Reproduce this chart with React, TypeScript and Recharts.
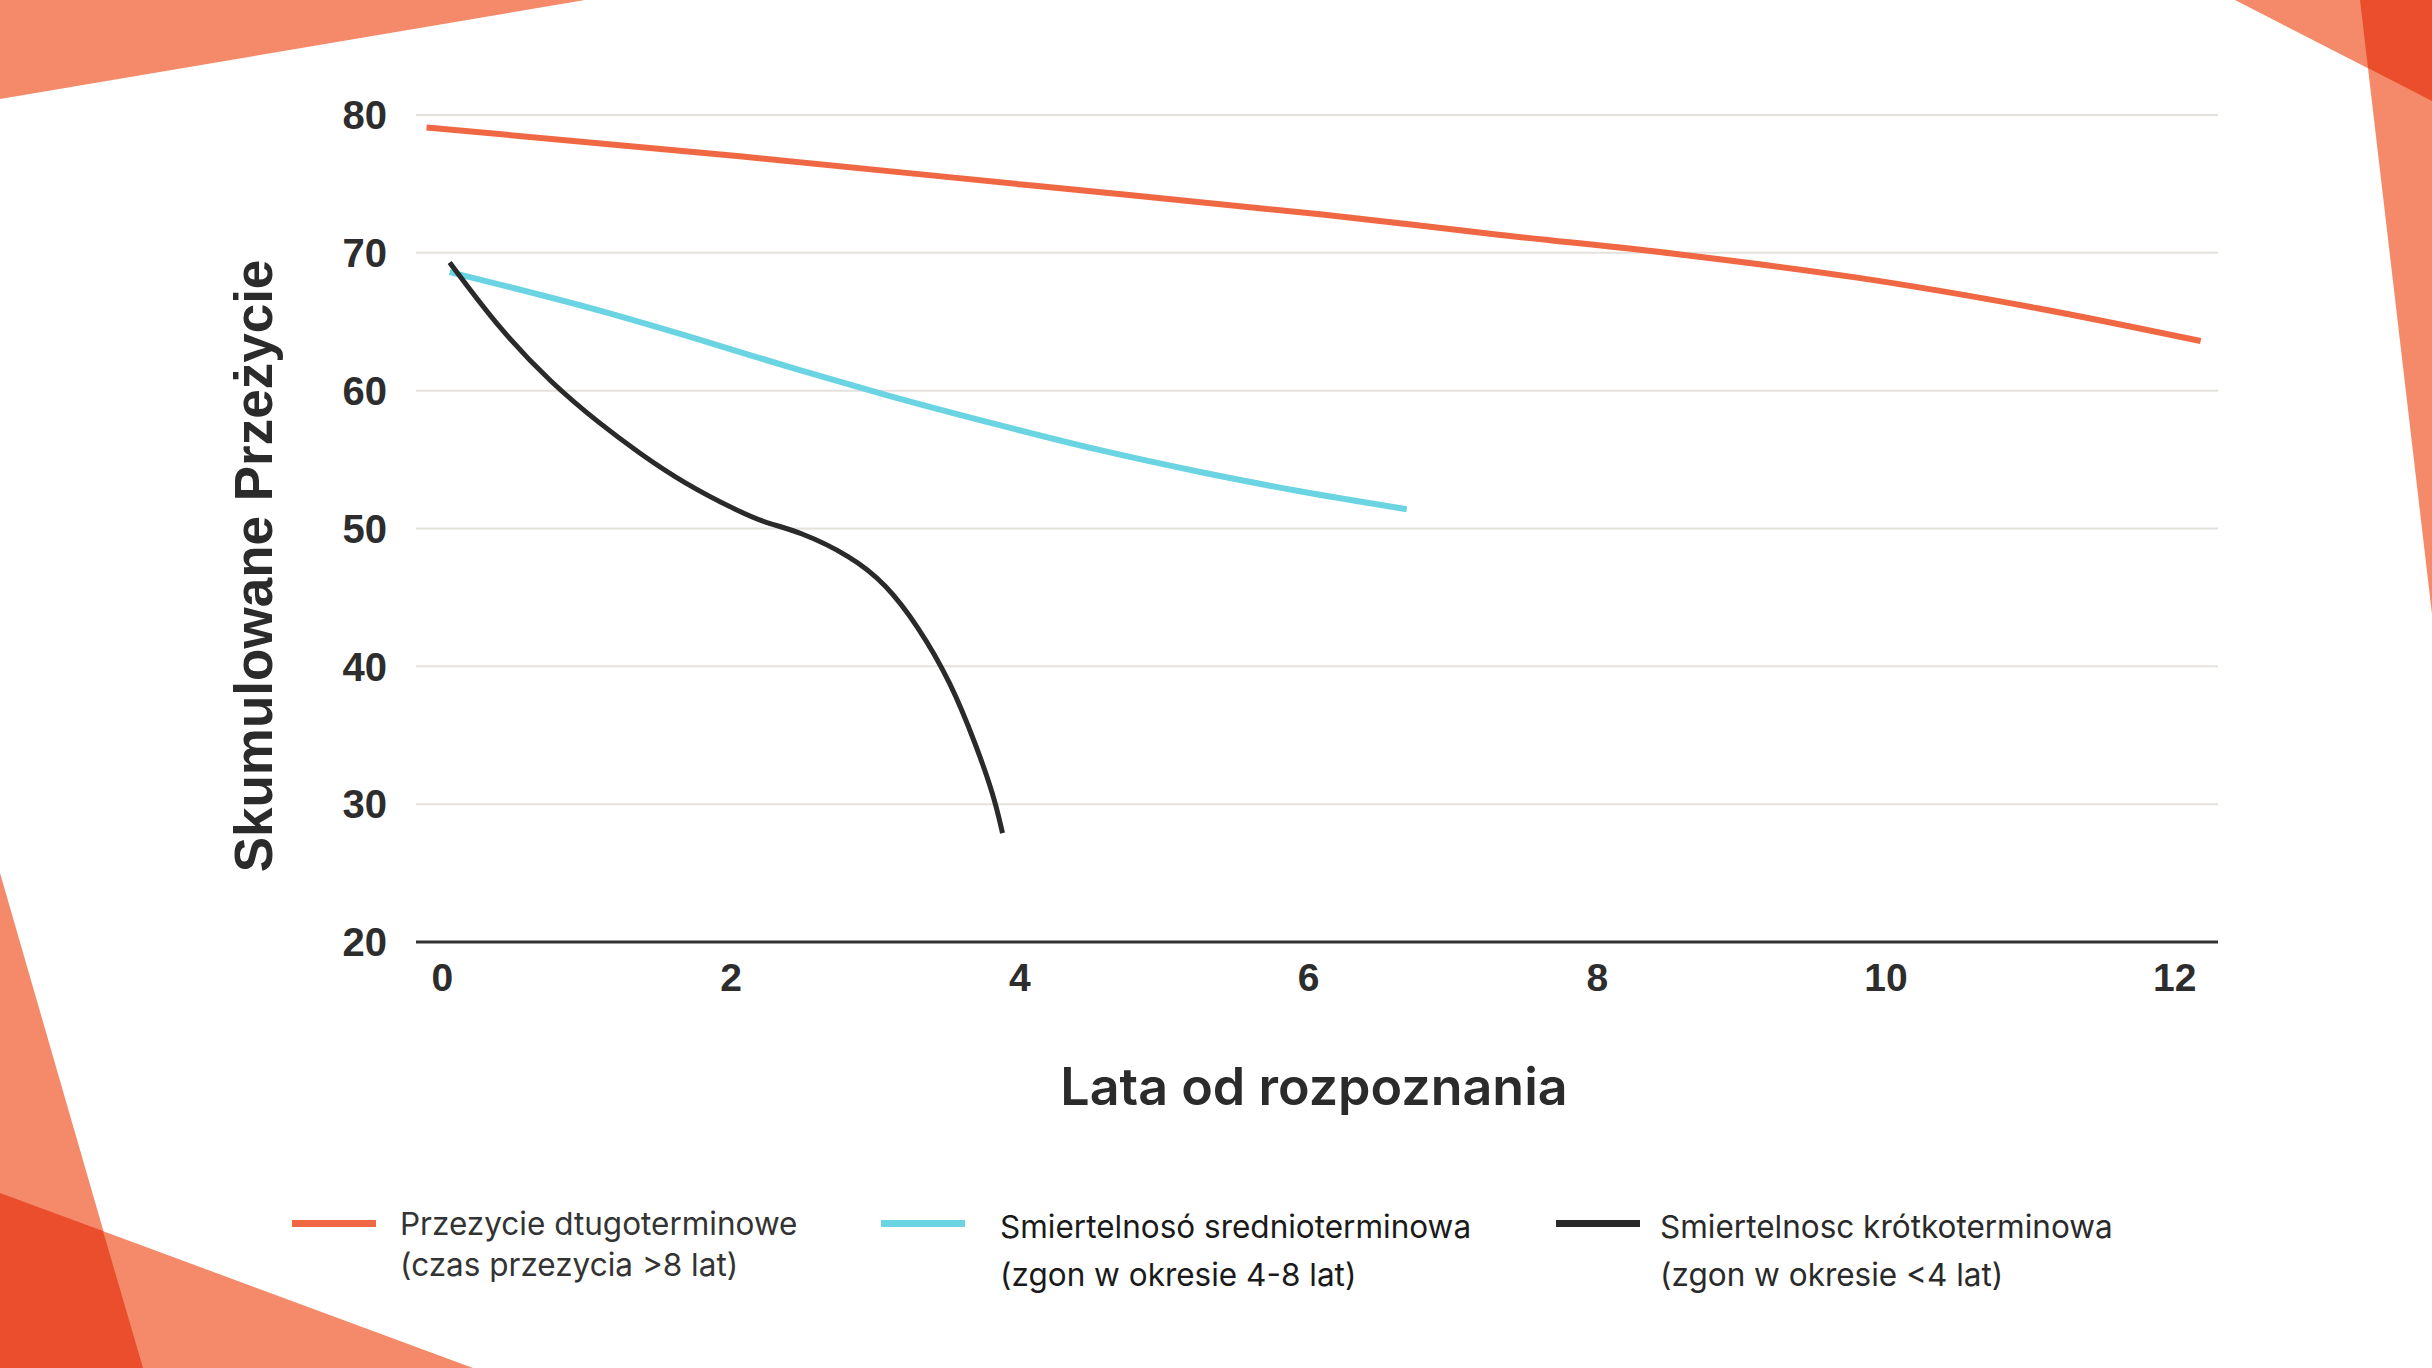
import { LineChart, Line, XAxis, YAxis, CartesianGrid, Legend } from 'recharts';

// lata od rozpoznania / skumulowane przeżycie
const longTermX = [-0.11, 2.06, 4.07, 6.08, 7.33, 8.56, 9.8, 11.04, 12.18];
const longTermY = [79.1, 77.0, 74.9, 72.8, 71.3, 69.9, 68.2, 66.0, 63.6];

const midTermX = [0.05, 1.09, 1.78, 2.47, 3.07, 3.86, 4.55, 5.25, 5.94, 6.68];
const midTermY = [68.6, 65.8, 63.7, 61.5, 59.7, 57.5, 55.7, 54.1, 52.7, 51.4];

const shortTermX = [0.05, 0.4, 0.76, 1.09, 1.36, 1.67, 2.06, 2.24, 2.47, 2.83, 3.07, 3.29, 3.52, 3.7, 3.82, 3.88];
const shortTermY = [69.3, 64.4, 60.5, 57.6, 55.5, 53.3, 51.2, 50.4, 49.8, 48.0, 46.0, 43.0, 38.9, 34.2, 30.6, 27.9];

const xTicks = [0, 2, 4, 6, 8, 10, 12];
const yTicks = [20, 30, 40, 50, 60, 70, 80];

const seriesNames = ['Przezycie dtugoterminowe', 'Smiertelnosó srednioterminowa', 'Smiertelnosc krótkoterminowa'];
const seriesNotes = ['(czas przezycia >8 lat)', '(zgon w okresie 4-8 lat)', '(zgon w okresie <4 lat)'];
const seriesColors = ['#EF6843', '#6AD4E2', '#2A2A2A'];

const toPoints = (xs: number[], ys: number[]) => xs.map((x, i) => ({ x, y: ys[i] }));

const longTerm = toPoints(longTermX, longTermY);
const midTerm = toPoints(midTermX, midTermY);
const shortTerm = toPoints(shortTermX, shortTermY);

const LIGHT = '#F48A69';
const DARK = '#EA4E2D';

function Corners() {
  return (
    <svg width={2432} height={1368} style={{ position: 'absolute', left: 0, top: 0 }}>
      <polygon points="0,0 585,0 0,99" fill={LIGHT} />
      <polygon points="2235,0 2432,0 2432,101" fill={LIGHT} />
      <polygon points="2360,0 2432,0 2432,614" fill={LIGHT} />
      <polygon points="2360,0 2432,0 2432,101 2368,68" fill={DARK} />
      <polygon points="0,873 143,1368 0,1368" fill={LIGHT} />
      <polygon points="0,1193 473,1368 0,1368" fill={LIGHT} />
      <polygon points="0,1193 103,1231 143,1368 0,1368" fill={DARK} />
    </svg>
  );
}

function LegendContent() {
  const items = [
    { left: 292, textLeft: 400, gap: 41, color: '#333' },
    { left: 881, textLeft: 1000, gap: 48, color: '#1a1a1a' },
    { left: 1556, textLeft: 1660, gap: 48, color: '#2a2a2a' },
  ];
  // zero height so the legend does not take room from the plot
  return (
    <div style={{ position: 'relative', width: 2432, height: 0, overflow: 'visible' }}>
      {items.map((it, i) => (
        <div key={i}>
          <div
            style={{
              position: 'absolute',
              left: it.left,
              top: 22,
              width: 84,
              height: 7,
              background: seriesColors[i],
            }}
          />
          <div
            style={{
              position: 'absolute',
              left: it.textLeft,
              top: 5,
              fontFamily: 'Inter, sans-serif',
              fontSize: 31.5,
              color: it.color,
              lineHeight: `${it.gap}px`,
              whiteSpace: 'nowrap',
            }}
          >
            <div>{seriesNames[i]}</div>
            <div>{seriesNotes[i]}</div>
          </div>
        </div>
      ))}
    </div>
  );
}

export default function App() {
  return (
    <div style={{ position: 'fixed', left: 0, top: 0, width: 2432, height: 1368, background: '#fff', overflow: 'hidden' }}>
      <Corners />
      <div style={{ position: 'absolute', left: 0, top: 0 }}>
        <LineChart width={2432} height={1368} margin={{ top: 115, right: 214, bottom: 0, left: 0 }}>
          <CartesianGrid horizontal vertical={false} stroke="#E4E1DC" strokeWidth={2} />
          <XAxis
            type="number"
            dataKey="x"
            domain={[-0.183, 12.3]}
            ticks={xTicks}
            allowDataOverflow
            height={426}
            tickSize={0}
            tickMargin={21}
            axisLine={{ stroke: '#333', strokeWidth: 3 }}
            tick={{ fill: '#2d2d2d', fontSize: 39, fontWeight: 700, fontFamily: '"Liberation Sans", Arial, sans-serif' }}
            label={{
              content: (props: any) => {
                const vb = props.viewBox;
                return (
                  <text
                    x={vb.x + vb.width / 2 - 3}
                    y={vb.y + 144}
                    textAnchor="middle"
                    dominantBaseline="central"
                    fill="#2b2b2b"
                    fontSize={52}
                    fontWeight={600}
                    fontFamily="Inter, sans-serif"
                  >
                    Lata od rozpoznania
                  </text>
                );
              },
            }}
          />
          <YAxis
            type="number"
            domain={[20, 80]}
            ticks={yTicks}
            width={416}
            tickSize={0}
            tickMargin={29}
            axisLine={false}
            tick={{ fill: '#2d2d2d', fontSize: 40, fontWeight: 700, fontFamily: '"Liberation Sans", Arial, sans-serif' }}
            label={{
              content: () => (
                <text
                  x={0}
                  y={0}
                  transform="translate(272, 566) rotate(-90)"
                  textAnchor="middle"
                  fill="#2b2b2b"
                  fontSize={53}
                  fontWeight={700}
                  fontFamily='"Liberation Sans", Arial, sans-serif'
                >
                  Skumulowane Przeżycie
                </text>
              ),
            }}
          />
          <Legend
            content={() => <LegendContent />}
            wrapperStyle={{ position: 'absolute', left: 0, top: 1198, width: 2432, height: 0 }}
          />
          <Line data={longTerm} dataKey="y" type="monotone" stroke={seriesColors[0]} strokeWidth={6} dot={false} isAnimationActive={false} />
          <Line data={midTerm} dataKey="y" type="monotone" stroke={seriesColors[1]} strokeWidth={6} dot={false} isAnimationActive={false} />
          <Line data={shortTerm} dataKey="y" type="basis" stroke={seriesColors[2]} strokeWidth={5} dot={false} isAnimationActive={false} />
        </LineChart>
      </div>
    </div>
  );
}
